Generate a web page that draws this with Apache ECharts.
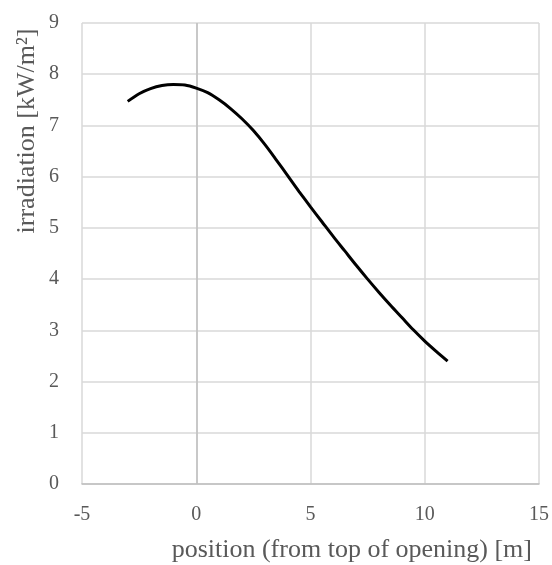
<!DOCTYPE html>
<html>
<head>
<meta charset="utf-8">
<script src="https://cdn.jsdelivr.net/npm/echarts@6/dist/echarts.min.js"></script>
<style>html,body{margin:0;padding:0;background:#fff;}#c{width:552px;height:565px;}</style>
</head>
<body>
<div id="c"></div>
<script>
var positions = [-3, -2.5, -2, -1.5, -1, -0.5, 0, 0.5, 1, 1.5, 2, 2.5, 3, 3.5, 4, 4.5, 5, 5.5, 6, 6.5, 7, 7.5, 8, 8.5, 9, 9.5, 10, 10.5, 11];
var irradiation = [7.47, 7.62, 7.72, 7.78, 7.80, 7.79, 7.73, 7.64, 7.50, 7.33, 7.13, 6.90, 6.63, 6.33, 6.02, 5.71, 5.41, 5.12, 4.83, 4.55, 4.27, 4.00, 3.74, 3.49, 3.25, 3.01, 2.79, 2.59, 2.40];
var xTicks = { min: -5, max: 15, interval: 5 };
var yTicks = { min: 0, max: 9, interval: 1 };
var xName = 'position (from top of opening) [m]';
var yName = 'irradiation [kW/m²]';

var font = '"Liberation Serif", "Times New Roman", serif';
var chart = echarts.init(document.getElementById('c'), null, {renderer: 'canvas'});
var pts = positions.map(function (p, i) { return [p, irradiation[i]]; });
chart.setOption({
  animation: false,
  backgroundColor: '#fff',
  grid: { left: 82, right: 12, top: 23, bottom: 81 },
  graphic: [{
    type: 'text',
    x: 27, y: 131,
    rotation: Math.PI / 2,
    style: { text: yName, fontFamily: font, fontSize: 26, fill: '#595959', align: 'center', verticalAlign: 'middle' }
  }],
  xAxis: {
    type: 'value', min: xTicks.min, max: xTicks.max, interval: xTicks.interval,
    name: xName, nameLocation: 'end', nameGap: 0,
    nameTextStyle: { fontFamily: font, fontSize: 26, color: '#595959', align: 'right', verticalAlign: 'top', padding: [53, 7, 0, 0] },
    axisLine: { show: true, onZero: false, lineStyle: { color: '#bfbfbf', width: 1.5 } },
    axisTick: { show: false },
    axisLabel: { fontFamily: font, fontSize: 20, color: '#595959', margin: 21 },
    splitLine: { show: true, lineStyle: { color: '#d9d9d9', width: 1.5 } }
  },
  yAxis: {
    type: 'value', min: yTicks.min, max: yTicks.max, interval: yTicks.interval,
    axisLine: { show: false },
    axisTick: { show: false },
    axisLabel: { fontFamily: font, fontSize: 20, color: '#595959', margin: 23 },
    splitLine: { show: true, lineStyle: { color: '#d9d9d9', width: 1.5 } }
  },
  series: [{
    type: 'line',
    data: pts,
    smooth: 0.3,
    showSymbol: false,
    lineStyle: { color: '#000', width: 3 },
    markLine: {
      silent: true, symbol: 'none', label: { show: false },
      lineStyle: { color: '#bfbfbf', width: 1.5, type: 'solid' },
      data: [{ xAxis: 0 }]
    },
    z: 5
  }]
});
</script>
</body>
</html>
